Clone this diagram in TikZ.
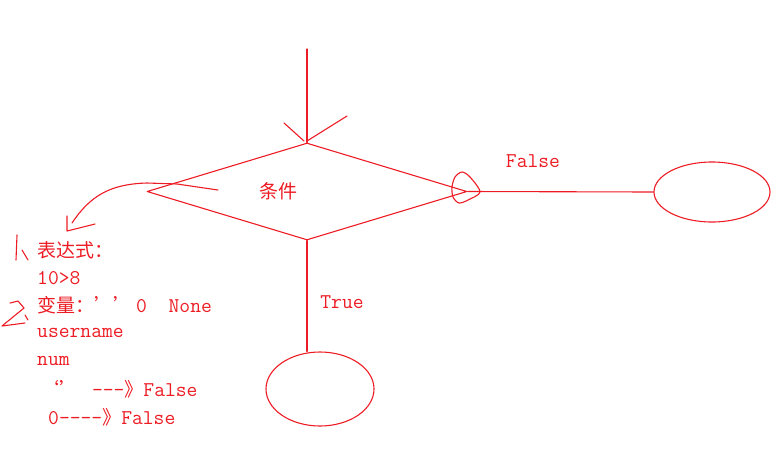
\documentclass[tikz,border=0pt]{standalone}
\usepackage{fontspec}
\newfontfamily\cjk{Noto Sans CJK SC}
\usepackage{xcolor}
\usepackage{tikz}
\usetikzlibrary{shapes.geometric}
\definecolor{penred}{RGB}{237,28,36}
\newcommand{\hanzi}[1]{{\cjk\fontsize{19}{21}\selectfont #1}}
\tikzset{
    penline/.style={draw=penred, line width=1.1pt, line cap=round, line join=round},
    pentext/.style={text=penred, font=\ttfamily\fontsize{21}{23}\selectfont, inner sep=0pt},
}

\begin{document}
\begin{tikzpicture}[x=1pt,y=-1pt]
        \useasboundingbox (0,0) rectangle (783,456);

        \node[penline, diamond, minimum width=320pt, minimum height=97pt, inner sep=0pt] (cond) at (307,191.5) {};
        \node[pentext] (condlbl) at (278,191) {\hanzi{条件}};

        \node[penline, ellipse, minimum width=116pt, minimum height=60pt] (endfalse) at (712,192) {};
        \node[penline, ellipse, minimum width=108pt, minimum height=74pt] (endtrue) at (320,389) {};

        \node[pentext] (falselbl) at (533,161) {False};
        \node[pentext] (truelbl) at (342,302) {True};

        \coordinate (entry) at (307,49);

        % flow lines
        \draw[penline] (entry) -- (cond.north);
        \draw[penline] (284,123) -- (304,141);
        \draw[penline] (347,116) -- (307,141);
        \draw[penline] (cond.east) -- (endfalse.west);
        \draw[penline] (cond.south) -- (cond.south |- endtrue.north);
        \draw[penline] plot[smooth cycle] coordinates {(480,192) (470,177) (462,172) (455,177) (452,187) (453,197) (459,203) (468,200)};

        % notes on the left
        \node[pentext, anchor=west] (note1) at (37,250) {\hanzi{表达式：}};
        \node[pentext, anchor=west] (note2) at (37,278) {10>8};
        \node[pentext, anchor=west] (note3) at (37,305) {\hanzi{变量：’’}\hspace{4pt}0~~None};
        \node[pentext, anchor=west] (note4) at (37,333) {username};
        \node[pentext, anchor=west] (note5) at (37,361) {num};
        \node[pentext, anchor=west] (note6) at (40,389) {\hanzi{‘’}~\hspace{3pt}-{}-{}-\hanzi{》}False};
        \node[pentext, anchor=west] (note7) at (48,417) {0-{}-{}-{}-\hanzi{》}False};

        \coordinate (pointtip) at (72,223);
        \draw[penline] (218,190) -- (177,184) -- (147,183) .. controls (110,184) and (90,196) .. (pointtip);
        \draw[penline] (67,216) -- (67,231) -- (95,224);

        % hand written 1 and 2
        \draw[penline] (17,235) -- (16,260);
        \draw[penline] (22,250) -- (28,260);
        \draw[penline] (10,303) -- (18,301) -- (24,308) -- (2,326) -- (25,323);
        \draw[penline] (25,315) -- (28,320);
    \end{tikzpicture}
\end{document}
